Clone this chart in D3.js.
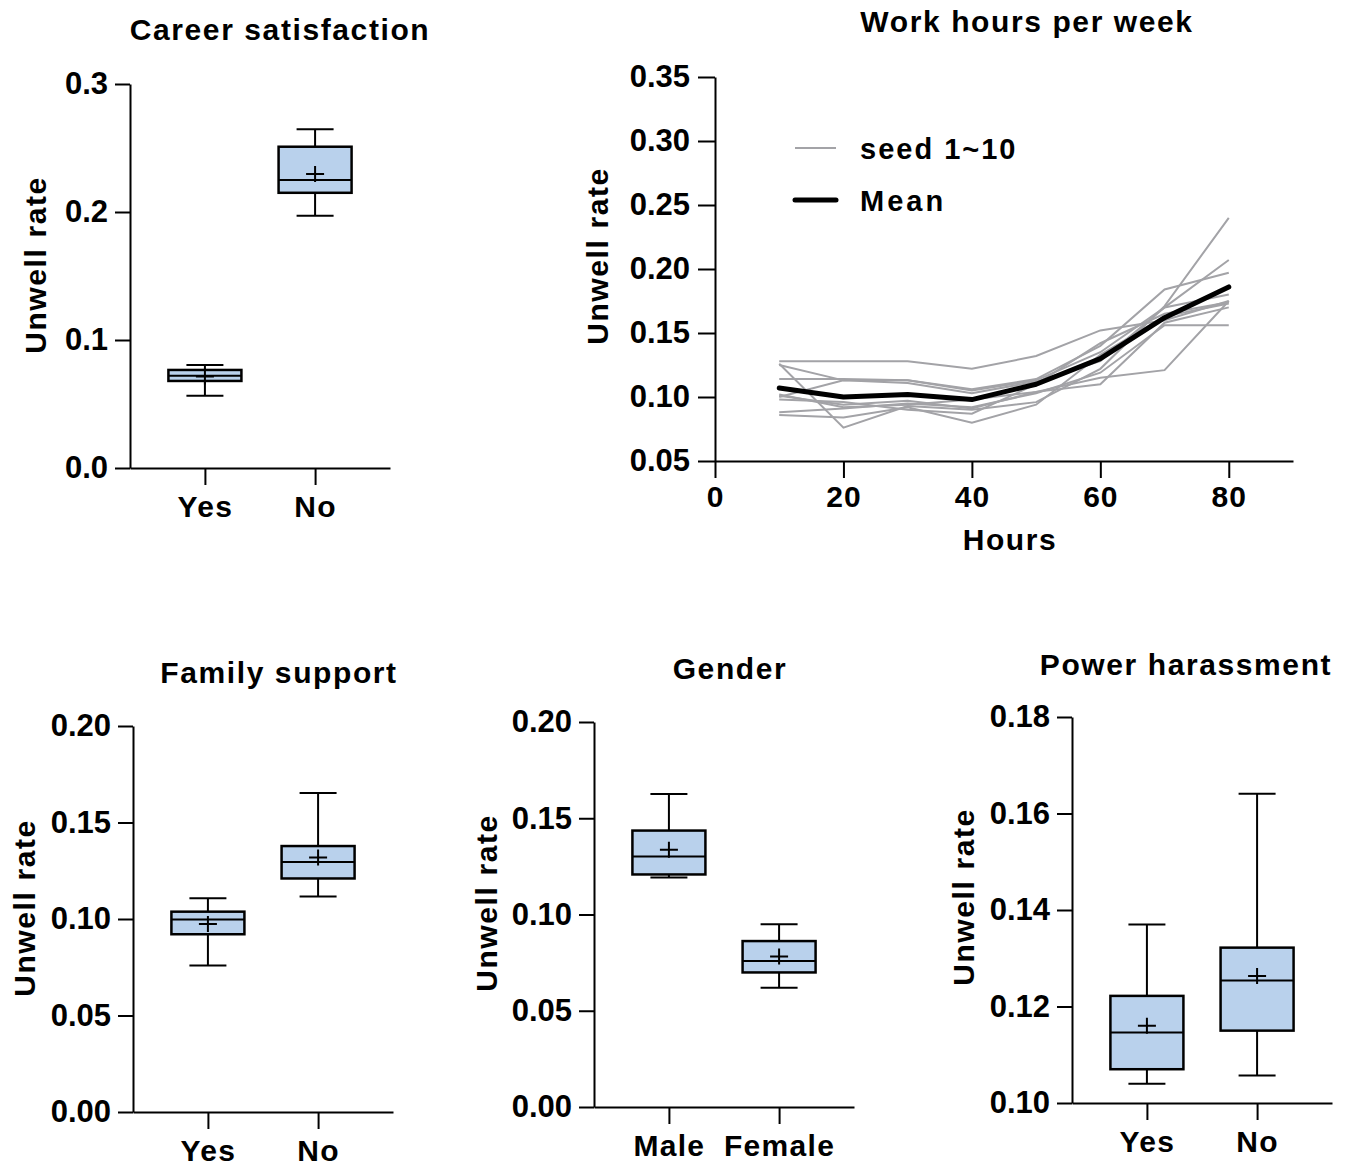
<!DOCTYPE html>
<html>
<head>
<meta charset="utf-8">
<script src="https://cdn.jsdelivr.net/npm/d3@7"></script>
<style>
  body { margin: 0; background: #fff; }
  svg text { font-family: "Liberation Sans", Arial, sans-serif; font-weight: bold; fill: #000; }
  .axis path, .axis line { stroke: #000; stroke-width: 2px; }
</style>
</head>
<body>
<svg></svg>
<script>
/* box plot data: whisker low, q1, median, q3, whisker high, mean */
var careerCats = ["Yes", "No"];
var careerLo = [0.0565, 0.197];
var careerQ1 = [0.068, 0.215];
var careerMed = [0.072, 0.225];
var careerQ3 = [0.0766, 0.251];
var careerHi = [0.0805, 0.2646];
var careerMean = [0.0715, 0.2297];

var familyCats = ["Yes", "No"];
var familyLo = [0.0759, 0.1116];
var familyQ1 = [0.0921, 0.121];
var familyMed = [0.0998, 0.1295];
var familyQ3 = [0.1038, 0.1378];
var familyHi = [0.1107, 0.1653];
var familyMean = [0.0974, 0.1319];

var genderCats = ["Male", "Female"];
var genderLo = [0.1192, 0.0619];
var genderQ1 = [0.1208, 0.0699];
var genderMed = [0.1301, 0.0758];
var genderQ3 = [0.1436, 0.0862];
var genderHi = [0.1626, 0.095];
var genderMean = [0.1336, 0.0782];

var powerCats = ["Yes", "No"];
var powerLo = [0.104, 0.1057];
var powerQ1 = [0.107, 0.115];
var powerMed = [0.1146, 0.1254];
var powerQ3 = [0.1222, 0.1322];
var powerHi = [0.137, 0.1641];
var powerMean = [0.116, 0.1263];

/* work hours line chart */
var hours = [10, 20, 30, 40, 50, 60, 70, 80];
var seeds = [
  [0.128, 0.128, 0.128, 0.122, 0.132, 0.152, 0.160, 0.175],
  [0.126, 0.076, 0.093, 0.090, 0.096, 0.122, 0.171, 0.240],
  [0.114, 0.114, 0.113, 0.106, 0.114, 0.140, 0.184, 0.197],
  [0.100, 0.113, 0.111, 0.103, 0.112, 0.128, 0.170, 0.207],
  [0.102, 0.092, 0.094, 0.098, 0.104, 0.115, 0.121, 0.175],
  [0.098, 0.096, 0.090, 0.087, 0.110, 0.142, 0.165, 0.174],
  [0.088, 0.091, 0.095, 0.092, 0.103, 0.119, 0.156, 0.156],
  [0.086, 0.084, 0.092, 0.080, 0.094, 0.133, 0.163, 0.173],
  [0.101, 0.094, 0.097, 0.091, 0.104, 0.110, 0.158, 0.170],
  [0.125, 0.113, 0.113, 0.105, 0.113, 0.135, 0.170, 0.180]
];
var meanRate = [0.107, 0.100, 0.102, 0.098, 0.110, 0.130, 0.162, 0.186];
var hourTicks = [0, 20, 40, 60, 80];
var rateTicks = [0.05, 0.1, 0.15, 0.2, 0.25, 0.3, 0.35];

var svg = d3.select("svg").attr("width", 1350).attr("height", 1166);
var boxFill = "#b9d1ec";

/* one box plot panel */
var boxPanel = function (p) {
  var g = svg.append("g");

  var yScale = d3.scaleLinear().domain(p.domain).range([p.bottom, p.top]);
  var xScale = d3
    .scalePoint()
    .domain(p.cats)
    .range([p.left, p.left + 260])
    .padding(0.68);

  var yAxis = d3
    .axisLeft(yScale)
    .tickValues(p.ticks)
    .tickFormat(d3.format(p.fmt))
    .tickSize(15)
    .tickSizeOuter(0)
    .tickPadding(7);
  var ya = g
    .append("g")
    .attr("class", "axis")
    .attr("transform", "translate(" + p.left + ",0)")
    .call(yAxis);
  ya.selectAll("text").style("font-size", "31px");

  var xAxis = d3
    .axisBottom(xScale)
    .tickSize(17)
    .tickSizeOuter(0)
    .tickPadding(11);
  var xa = g
    .append("g")
    .attr("class", "axis")
    .attr("transform", "translate(0," + p.bottom + ")")
    .call(xAxis);
  xa.selectAll("text").style("font-size", "30px").style("letter-spacing", "1.3px");

  var rows = p.cats.map((c, i) => {
    return {
      cat: c,
      lo: p.lo[i],
      q1: p.q1[i],
      med: p.med[i],
      q3: p.q3[i],
      hi: p.hi[i],
      mean: p.mean[i],
    };
  });

  var bw = 73;
  var cw = 37;
  var box = g.selectAll(".box").data(rows).enter().append("g").attr("class", "box");

  /* whiskers */
  box
    .append("line")
    .attr("x1", (d) => xScale(d.cat))
    .attr("x2", (d) => xScale(d.cat))
    .attr("y1", (d) => yScale(d.lo))
    .attr("y2", (d) => yScale(d.hi))
    .attr("stroke", "#000")
    .attr("stroke-width", 2);
  ["lo", "hi"].forEach((k) => {
    box
      .append("line")
      .attr("x1", (d) => xScale(d.cat) - cw / 2)
      .attr("x2", (d) => xScale(d.cat) + cw / 2)
      .attr("y1", (d) => yScale(d[k]))
      .attr("y2", (d) => yScale(d[k]))
      .attr("stroke", "#000")
      .attr("stroke-width", 2);
  });

  box
    .append("rect")
    .attr("x", (d) => xScale(d.cat) - bw / 2)
    .attr("width", bw)
    .attr("y", (d) => yScale(d.q3))
    .attr("height", (d) => yScale(d.q1) - yScale(d.q3))
    .attr("fill", boxFill)
    .attr("stroke", "#000")
    .attr("stroke-width", 2.5);

  box
    .append("line")
    .attr("x1", (d) => xScale(d.cat) - bw / 2)
    .attr("x2", (d) => xScale(d.cat) + bw / 2)
    .attr("y1", (d) => yScale(d.med))
    .attr("y2", (d) => yScale(d.med))
    .attr("stroke", "#000")
    .attr("stroke-width", 2);

  /* mean marker */
  box
    .append("path")
    .attr("d", (d) => {
      var x = xScale(d.cat);
      var y = yScale(d.mean);
      return "M" + (x - 9) + "," + y + "H" + (x + 9) + "M" + x + "," + (y - 8) + "V" + (y + 8);
    })
    .attr("stroke", "#000")
    .attr("stroke-width", 2);

  g.append("text")
    .attr("x", p.titleX)
    .attr("y", p.titleY)
    .attr("text-anchor", "middle")
    .style("font-size", "30px")
    .style("letter-spacing", "1.6px")
    .text(p.title);

  g.append("text")
    .attr("transform", "translate(" + p.labelX + "," + p.labelY + ") rotate(-90)")
    .attr("text-anchor", "middle")
    .style("font-size", "30px")
    .style("letter-spacing", "1.6px")
    .text("Unwell rate");
};

boxPanel({
  title: "Career satisfaction", titleX: 280, titleY: 40,
  labelX: 46, labelY: 265,
  left: 130, top: 84, bottom: 468,
  domain: [0, 0.3], ticks: [0, 0.1, 0.2, 0.3], fmt: ".1f",
  cats: careerCats, lo: careerLo, q1: careerQ1, med: careerMed, q3: careerQ3, hi: careerHi, mean: careerMean,
});

boxPanel({
  title: "Family support", titleX: 279, titleY: 683,
  labelX: 35, labelY: 908,
  left: 133, top: 726, bottom: 1112,
  domain: [0, 0.2], ticks: [0, 0.05, 0.1, 0.15, 0.2], fmt: ".2f",
  cats: familyCats, lo: familyLo, q1: familyQ1, med: familyMed, q3: familyQ3, hi: familyHi, mean: familyMean,
});

boxPanel({
  title: "Gender", titleX: 730, titleY: 679,
  labelX: 497, labelY: 903,
  left: 594, top: 722, bottom: 1107,
  domain: [0, 0.2], ticks: [0, 0.05, 0.1, 0.15, 0.2], fmt: ".2f",
  cats: genderCats, lo: genderLo, q1: genderQ1, med: genderMed, q3: genderQ3, hi: genderHi, mean: genderMean,
});

boxPanel({
  title: "Power harassment", titleX: 1186, titleY: 675,
  labelX: 974, labelY: 897,
  left: 1072, top: 717, bottom: 1103,
  domain: [0.1, 0.18], ticks: [0.1, 0.12, 0.14, 0.16, 0.18], fmt: ".2f",
  cats: powerCats, lo: powerLo, q1: powerQ1, med: powerMed, q3: powerQ3, hi: powerHi, mean: powerMean,
});

/* line chart */
var linePanel = function () {
  var g = svg.append("g");
  var xScale = d3.scaleLinear().domain([0, 90]).range([715, 1293]);
  var yScale = d3.scaleLinear().domain([0.05, 0.35]).range([461, 77]);

  var xa = g
    .append("g")
    .attr("class", "axis")
    .attr("transform", "translate(0,461)")
    .call(d3.axisBottom(xScale).tickValues(hourTicks).tickSize(17).tickSizeOuter(0).tickPadding(8));
  xa.selectAll("text").style("font-size", "30px").style("letter-spacing", "1px");

  var ya = g
    .append("g")
    .attr("class", "axis")
    .attr("transform", "translate(715,0)")
    .call(
      d3.axisLeft(yScale).tickValues(rateTicks).tickFormat(d3.format(".2f")).tickSize(17).tickSizeOuter(0).tickPadding(8)
    );
  ya.selectAll("text").style("font-size", "31px");

  var line = d3
    .line()
    .x((d, i) => xScale(hours[i]))
    .y((d) => yScale(d));

  g.selectAll(".seed")
    .data(seeds)
    .enter()
    .append("path")
    .attr("class", "seed")
    .attr("d", line)
    .attr("fill", "none")
    .attr("stroke", "#a3a3a7")
    .attr("stroke-width", 2);

  g.append("path")
    .attr("d", line(meanRate))
    .attr("fill", "none")
    .attr("stroke", "#000")
    .attr("stroke-width", 5)
    .attr("stroke-linejoin", "round")
    .attr("stroke-linecap", "round");

  /* legend */
  g.append("line").attr("x1", 795).attr("x2", 836).attr("y1", 148).attr("y2", 148)
    .attr("stroke", "#a3a3a7").attr("stroke-width", 2);
  g.append("line").attr("x1", 795).attr("x2", 836).attr("y1", 200).attr("y2", 200)
    .attr("stroke", "#000").attr("stroke-width", 5).attr("stroke-linecap", "round");
  g.append("text").attr("x", 860).attr("y", 159).style("font-size", "29px").style("letter-spacing", "2px").text("seed 1~10");
  g.append("text").attr("x", 860).attr("y", 211).style("font-size", "29px").style("letter-spacing", "3px").text("Mean");

  g.append("text")
    .attr("x", 1027).attr("y", 32)
    .attr("text-anchor", "middle")
    .style("font-size", "30px")
    .style("letter-spacing", "1.6px")
    .text("Work hours per week");

  g.append("text")
    .attr("x", 1010).attr("y", 550)
    .attr("text-anchor", "middle")
    .style("font-size", "30px")
    .style("letter-spacing", "1.6px")
    .text("Hours");

  g.append("text")
    .attr("transform", "translate(608,256) rotate(-90)")
    .attr("text-anchor", "middle")
    .style("font-size", "30px")
    .style("letter-spacing", "1.6px")
    .text("Unwell rate");
};

linePanel();
</script>
</body>
</html>
